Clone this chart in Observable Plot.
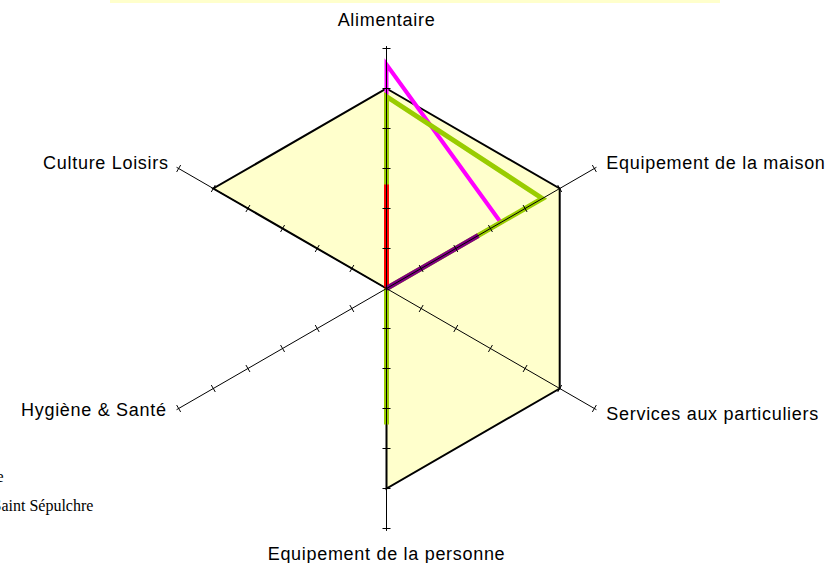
<!DOCTYPE html>
<html><head><meta charset="utf-8">
<script src="https://cdn.jsdelivr.net/npm/d3@7"></script>
<script src="https://cdn.jsdelivr.net/npm/@observablehq/plot@0.6"></script>
<style>
body{margin:0;background:#fff;}
#wrap{position:relative;width:831px;height:563px;overflow:hidden;}
#band{position:absolute;left:110px;top:0;width:610px;height:3px;background:#FFFFCC;}
#wrap svg{position:absolute;left:0;top:0;}
</style></head><body>
<div id="wrap"><div id="band"></div></div>
<script>
// ---- data ----
const axes = ["Alimentaire", "Equipement de la maison", "Services aux particuliers",
              "Equipement de la personne", "Hygiène & Santé", "Culture Loisirs"];
const tickValues = [1, 2, 3, 4, 5, 6];
const zoneValues    = [5, 5, 5, 5, 0, 5];
const magentaValues = [5.6, 3.3, 0, 0, 0, 0];
const greenValues   = [4.8, 4.5, 0, 3.4, 0, 0];
const redValues     = [2.6, 0, 0, 0, 0, 0];
const purpleValues  = [0, 2.65, 0, 0, 0, 0];
const legendLabels  = ["Moyenne", "Saint Sépulchre"];

// ---- layout ----
const W = 831, H = 563, cx = 386, cy = 288, unit = 40, rMax = 6;
const ang = i => (90 - 60 * i) * Math.PI / 180;
const polar = (values) => values.map((v, i) => ({axis: axes[i], x: v * Math.cos(ang(i)), y: v * Math.sin(ang(i))}));

const axisLines = axes.map((a, i) => ({axis: a, x1: 0, y1: 0, x2: (rMax + 0.06) * Math.cos(ang(i)), y2: (rMax + 0.06) * Math.sin(ang(i))}));
const tickSegs = axes.flatMap((a, i) => tickValues.map(t => {
  const c = Math.cos(ang(i)), s = Math.sin(ang(i)), h = 0.1;
  return {x1: t * c + h * s, y1: t * s - h * c, x2: t * c - h * s, y2: t * s + h * c};
}));
const labelPts = axes.map((a, i) => ({axis: a, i, x: rMax * Math.cos(ang(i)), y: rMax * Math.sin(ang(i))}));
const labelStyle = [
  {textAnchor: "middle", dx: 0, dy: -28},
  {textAnchor: "start", dx: 12, dy: -5},
  {textAnchor: "start", dx: 12, dy: 6},
  {textAnchor: "middle", dx: 0, dy: 26},
  {textAnchor: "end", dx: -12, dy: 2},
  {textAnchor: "end", dx: -10, dy: -5}
];

const lineOpts = (color, w) => ({x: "x", y: "y", curve: "linear-closed", stroke: color, strokeWidth: w,
  strokeLinejoin: "miter", strokeMiterlimit: 10, strokeLinecap: "butt"});
const serif = "'Liberation Serif', 'Times New Roman', serif";

const chart = Plot.plot({
  width: W, height: H,
  margin: 0,
  x: {domain: [-cx / unit, (W - cx) / unit], axis: null},
  y: {domain: [(cy - H) / unit, cy / unit], axis: null},
  style: {fontFamily: "'Liberation Sans', Arial, sans-serif", background: "transparent"},
  marks: [
    Plot.line(polar(zoneValues), {...lineOpts("#000", 2), fill: "#FFFFCC"}),
    Plot.line(polar(magentaValues), lineOpts("#FF00FF", 4)),
    Plot.line(polar(greenValues), lineOpts("#99CC00", 5)),
    Plot.line(polar(redValues), lineOpts("#FF0000", 5)),
    Plot.line(polar(purpleValues), lineOpts("#800080", 5)),
    Plot.link(axisLines, {x1: "x1", y1: "y1", x2: "x2", y2: "y2", stroke: "#000", strokeWidth: 1}),
    Plot.link(tickSegs, {x1: "x1", y1: "y1", x2: "x2", y2: "y2", stroke: "#000", strokeWidth: 1}),
    ...labelPts.map((p, i) => Plot.text([p], {x: "x", y: "y", text: "axis", fontSize: 18, fill: "#000",
      textAnchor: labelStyle[i].textAnchor, dx: labelStyle[i].dx, dy: labelStyle[i].dy})),
    Plot.text([legendLabels[0]], {frameAnchor: "top-left", dx: 3, dy: 470, textAnchor: "end",
      fontFamily: serif, fontSize: 16, fill: "#000"}),
    Plot.text([legendLabels[1]], {frameAnchor: "top-left", dx: -8, dy: 499, textAnchor: "start",
      fontFamily: serif, fontSize: 16, fill: "#000"})
  ]
});
d3.select(chart).selectAll("text").filter(function () { return axes.includes(this.textContent); })
  .attr("letter-spacing", "0.7px");
document.getElementById("wrap").appendChild(chart);
</script>
</body></html>
